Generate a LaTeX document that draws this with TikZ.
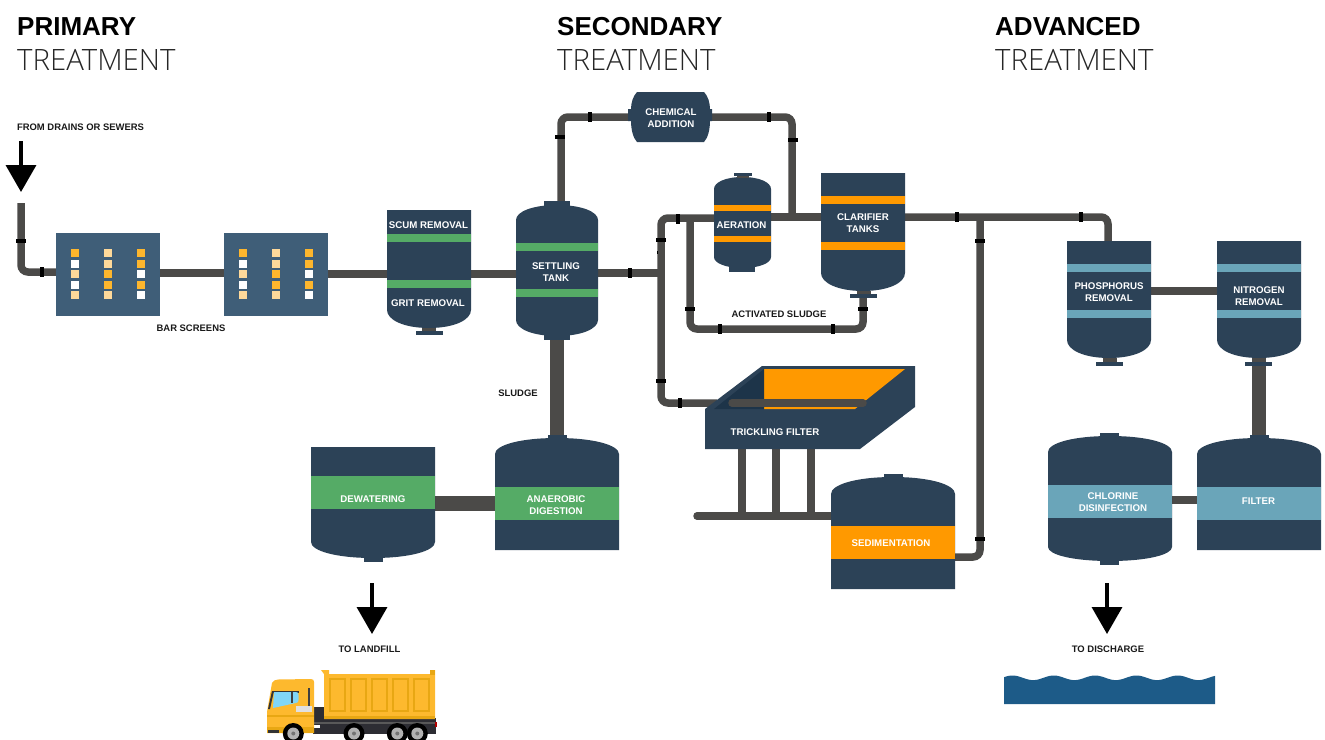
\documentclass[tikz,border=0pt]{standalone}
\usepackage{fontspec}
\setmainfont{Liberation Sans}
\newfontfamily\lightf{Open Sans Light}
\usetikzlibrary{arrows.meta,calc}
\definecolor{navy}{HTML}{2C4257}
\definecolor{panel}{HTML}{3F5E78}
\definecolor{bgreen}{HTML}{55AB66}
\definecolor{borange}{HTML}{FF9900}
\definecolor{bblue}{HTML}{6AA5B9}
\definecolor{water}{HTML}{1D5B88}
\definecolor{pipec}{HTML}{4B4A48}
\definecolor{sqo}{HTML}{FDB62D}
\definecolor{sql}{HTML}{FED99A}
\definecolor{innerd}{HTML}{1D3449}
\definecolor{tkY}{HTML}{FDB92E}
\definecolor{tkD}{HTML}{E8A713}
\definecolor{tkK}{HTML}{2D2D33}
\pgfdeclarelayer{bg}
\pgfsetlayers{bg,main}
\tikzset{
  pipe/.style={draw=pipec,line width=7.5pt,rounded corners=7pt},
  fatpipe/.style={draw=pipec,line width=14pt},
  lbl/.style={inner sep=0pt,outer sep=0pt,yshift=-0.7pt,text=white,align=center,font=\bfseries\fontsize{9.7}{12}\selectfont},
  captxt/.style={inner sep=0pt,outer sep=0pt,yshift=-0.5pt,text=black!90,align=center,font=\bfseries\fontsize{9.45}{12}\selectfont},
  bbox/.style={inner sep=0pt,outer sep=0pt,minimum width=0pt,minimum height=0pt,anchor=north west},
  flow/.style={line width=3.6pt,draw=black,-{Triangle[length=27pt,width=30pt]}}
}
% name, x1, x2, ytop, shoulder1, shoulder2, ybottom
\newcommand\vessel[7]{%
  \fill[navy] ({#2},{#5}) .. controls ({#2},{#5-.55*(#5-#4)}) and ({(#2+#3)/2-.3*(#3-#2)},{#4}) .. ({(#2+#3)/2},{#4})
    .. controls ({(#2+#3)/2+.3*(#3-#2)},{#4}) and ({#3},{#5-.55*(#5-#4)}) .. ({#3},{#5})
    -- ({#3},{#6}) .. controls ({#3},{#6+.55*(#7-#6)}) and ({(#2+#3)/2+.3*(#3-#2)},{#7}) .. ({(#2+#3)/2},{#7})
    .. controls ({(#2+#3)/2-.3*(#3-#2)},{#7}) and ({#2},{#6+.55*(#7-#6)}) .. ({#2},{#6}) -- cycle;
  \node[bbox,minimum width={(#3-#2)*1pt},minimum height={(#7-#4)*1pt}] (#1) at (#2,#4) {};
}
\newcommand\band[5]{\fill[#5] (#1,#3) rectangle (#2,#4);}
\newcommand\foot[4]{% x center, y neck top, y plate top, y plate bottom
  \fill[pipec] ({#1-7},#2) rectangle ({#1+7},#3);
  \fill[navy] ({#1-13.5},#3) rectangle ({#1+13.5},#4);}
\newcommand\tickv[2]{\fill[black] ({#1-1.7},{#2-5}) rectangle ({#1+1.7},{#2+5});}
\newcommand\tickh[2]{\fill[black] ({#1-5},{#2-1.7}) rectangle ({#1+5},{#2+1.7});}
\newcommand\screen[2]{%
  \node[bbox,fill=panel,minimum width=104pt,minimum height=83pt] (#1) at (#2,233) {};
  \foreach \dx/\cola/\colb/\colc/\cold/\cole in {15/sqo/white/sql/white/sql,48/sql/sql/sqo/sqo/sql,81/sqo/sqo/white/sqo/white}{
    \fill[\cola] ({#2+\dx},249) rectangle ({#2+\dx+8},257);
    \fill[\colb] ({#2+\dx},260) rectangle ({#2+\dx+8},268);
    \fill[\colc] ({#2+\dx},270) rectangle ({#2+\dx+8},278);
    \fill[\cold] ({#2+\dx},281) rectangle ({#2+\dx+8},289);
    \fill[\cole] ({#2+\dx},291) rectangle ({#2+\dx+8},299);
  }%
}
\begin{document}
\begin{tikzpicture}[x=1pt,y=-1pt]
\useasboundingbox (0,0) rectangle (1325,739);

% headings
\foreach \n/\x/\t in {hp/17/PRIMARY,hs/557/SECONDARY,ha/995/ADVANCED}{
  \node[anchor=base west,inner sep=0pt,font=\bfseries\fontsize{26}{30}\selectfont] (\n) at (\x,35) {\t};
  \node[anchor=base west,inner sep=0pt,font=\lightf\fontsize{29.4}{30}\selectfont,text=black!85] (\n t) at (\x,70) {TREATMENT};
}

% bar screens
\screen{scrA}{56}
\screen{scrB}{224}

% scum / grit
\vessel{scum}{387}{471}{210}{210}{310}{328}
\band{387}{471}{234}{242}{bgreen}
\band{387}{471}{280}{288}{bgreen}
\foot{429}{328}{331}{335}
\node[lbl] (scumT) at (428.5,224) {SCUM REMOVAL};
\node[lbl] (gritT) at (428,302) {GRIT REMOVAL};

% settling
\vessel{settle}{516}{598}{205}{220}{320}{336}
\fill[navy] (544,201) rectangle (570,206);
\fill[navy] (544,335) rectangle (570,340);
\band{516}{598}{243}{251}{bgreen}
\band{516}{598}{289}{297}{bgreen}
\node[lbl] (settleT) at (556,271) {SETTLING\\TANK};

% chemical addition
\fill[navy] (637,92) -- (704,92) .. controls (708,96) and (710,103) .. (710,109) -- (712,109) -- (712,121) -- (710,121)
  .. controls (710,129) and (708,138) .. (704,142) -- (637,142) .. controls (633,138) and (631,129) .. (631,121)
  -- (628,121) -- (628,109) -- (631,109) .. controls (631,103) and (633,96) .. (637,92) -- cycle;
\node[bbox,minimum width=84pt,minimum height=50pt] (chem) at (628,92) {};
\node[lbl] (chemT) at (671,117.5) {CHEMICAL\\ADDITION};

% aeration
\vessel{aer}{714}{771}{177}{189}{257}{268}
\fill[pipec] (737,175) rectangle (749,178);
\fill[navy] (734,173) rectangle (752,176);
\fill[navy] (729,267) rectangle (755,272);
\band{714}{771}{205}{211}{borange}
\band{714}{771}{236}{242}{borange}
\node[lbl] (aerT) at (741.5,224) {AERATION};

% clarifier
\vessel{clar}{821}{905}{173}{173}{273}{291}
\band{821}{905}{196}{204}{borange}
\band{821}{905}{242}{250}{borange}
\foot{863.5}{291}{294}{298}
\node[lbl] (clarT) at (863,222) {CLARIFIER\\TANKS};

% trickling filter
\fill[navy] (705,409) -- (762,366) -- (915,366) -- (915,407) -- (860,449) -- (705,449) -- cycle;
\fill[borange] (764,369) -- (905,369) -- (855,409) -- (764,409) -- cycle;
\fill[innerd] (714,409) -- (764,369) -- (764,409) -- cycle;
\node[bbox,minimum width=210pt,minimum height=83pt] (trick) at (705,366) {};
\draw[pipec,line width=7.5pt,line cap=round] ([xshift=27pt]trick.west |- 0,403) -- ([xshift=158pt]trick.west |- 0,403);
\node[lbl] (trickT) at (775,431) {TRICKLING FILTER};

% sedimentation
\vessel{sedi}{831}{955}{477}{494}{589}{589}
\fill[navy] (884,474) rectangle (903,478);
\band{831}{955}{526}{559}{borange}
\node[lbl] (sediT) at (891,542) {SEDIMENTATION};

% anaerobic
\vessel{anae}{495}{619}{438}{454}{550}{550}
\fill[navy] (548,435) rectangle (567,439);
\band{495}{619}{487}{520}{bgreen}
\node[lbl] (anaeT) at (556,504.5) {ANAEROBIC\\DIGESTION};

% dewatering
\vessel{dewa}{311}{435}{447}{447}{542}{558}
\fill[navy] (364,557) rectangle (383,562);
\band{311}{435}{476}{509}{bgreen}
\node[lbl] (dewaT) at (373,498) {DEWATERING};

% chlorine
\vessel{chlo}{1048}{1172}{436}{452}{547}{561}
\fill[navy] (1100,433) rectangle (1119,437);
\fill[navy] (1100,560) rectangle (1119,565);
\band{1048}{1172}{485}{518}{bblue}
\node[lbl] (chloT) at (1113,501) {CHLORINE\\DISINFECTION};

% filter
\vessel{filt}{1197}{1321}{438}{454}{550}{550}
\fill[navy] (1250,435) rectangle (1269,439);
\band{1197}{1321}{487}{520}{bblue}
\node[lbl] (filtT) at (1258.5,500) {FILTER};

% phosphorus
\vessel{phos}{1067}{1151}{241}{241}{340}{358}
\band{1067}{1151}{264}{272}{bblue}
\band{1067}{1151}{310}{318}{bblue}
\foot{1109.5}{358}{362}{366}
\node[lbl] (phosT) at (1109,291.5) {PHOSPHORUS\\REMOVAL};

% nitrogen
\vessel{nitr}{1217}{1301}{241}{241}{340}{358}
\band{1217}{1301}{264}{272}{bblue}
\band{1217}{1301}{310}{318}{bblue}
\foot{1258.5}{358}{362}{366}
\node[lbl] (nitrT) at (1259,295) {NITROGEN\\REMOVAL};

% pipes, behind the vessels
\coordinate (inlet) at (21,203);
\coordinate (busL) at (697,516);
\coordinate (jn) at (661,273);
\coordinate (bendTop) at (661,218);
\begin{pgfonlayer}{bg}
  \draw[pipe] (inlet) |- (scrA.west |- 0,272);
  \draw[pipe] (scrA.east |- 0,273) -- (scrB.west |- 0,273);
  \draw[pipe] (scrB.east |- 0,274) -- (scum.west |- 0,274);
  \draw[pipe] (scum.east |- 0,274) -- (settle.west |- 0,274);
  \draw[pipe] (settle.east |- 0,273) -- (jn);
  \draw[pipe] (settle.north -| 561,0) |- (chem.west |- 0,117);
  \draw[pipe] (chem.east |- 0,117) -| (792,217);
  \draw[pipe] ([xshift=12pt]trick.west |- 0,403) -| (bendTop) -- (aer.west |- 0,218);
  \draw[pipe] (690,218) |- (863,329) -- (clar.south -| 863,0);
  \draw[pipe] (aer.east |- 0,217) -- (clar.west |- 0,217);
  \draw[pipe] (clar.east |- 0,217) -| (phos.north -| 1108,0);
  \draw[pipe] (980,217) |- (sedi.east |- 0,557);
  \draw[pipe] (phos.east |- 0,291) -- (nitr.west |- 0,291);
  \draw[pipe] (chlo.east |- 0,500) -- (filt.west |- 0,500);
  \draw[fatpipe] (settle.south -| 557,0) -- (anae.north -| 557,0);
  \draw[fatpipe] (nitr.south -| 1259,0) -- (filt.north -| 1259,0);
  \draw[fatpipe,line width=15pt] (dewa.east |- 0,503) -- (anae.west |- 0,503);
  \foreach \x in {742,776,811}{\draw[pipe] (trick.south -| \x,0) -- (\x,516);}
  \draw[pipe,line cap=round] (busL) -- (sedi.west |- 0,516);
\end{pgfonlayer}

% ticks
\tickh{21}{241}\tickv{42}{272}
\tickv{590}{117}\tickh{560}{137}\tickv{769}{117}\tickh{793}{140}
\tickv{630}{273}\tickh{661}{240}\tickv{678}{219}\tickh{690}{309}
\tickv{720}{329}\tickv{833}{329}\tickh{863}{309}
\tickh{661}{381}\tickv{680}{403}\tickh{980}{539}
\tickv{957}{217}\tickh{980}{241}\tickv{1081}{217}
\fill[black] (657,250.5) rectangle (658,254);

% outside flows
\coordinate (inS) at (21,141); \coordinate (inE) at (21,192);
\draw[flow] (inS) -- (inE);
\coordinate (lfS) at (372,583); \coordinate (lfE) at (372,634);
\draw[flow] (lfS) -- (lfE);
\coordinate (dsS) at (1107,583); \coordinate (dsE) at (1107,634);
\draw[flow] (dsS) -- (dsE);

% plain captions
\node[captxt,anchor=west] (cFrom) at (17,126.5) {FROM DRAINS OR SEWERS};
\node[captxt] (cBar) at (191,327.5) {BAR SCREENS};
\node[captxt] (cSlu) at (518,392.5) {SLUDGE};
\node[captxt] (cAct) at (779,313.5) {ACTIVATED SLUDGE};
\node[captxt] (cLan) at (369.5,648.5) {TO LANDFILL};
\node[captxt] (cDis) at (1108,648.5) {TO DISCHARGE};

% water
\fill[water] (1004,704) -- plot[domain=1004:1215,samples=140] (\x,{677.8-2.3*cos((\x-1012.5)*8.717)}) -- (1215,704) -- cycle;

% truck
\begin{scope}
\clip (250,660) rectangle (445,739);
\fill[tkK] (313,707) rectangle (326,720);
\fill[tkK] (313,718) rectangle (435.5,734);
\fill[black!65] (314,722) rectangle (435,723.5);
\fill[white] (314,725) rectangle (320,728);
\fill[red!70!black] (435,722) rectangle (437,727);
% cargo
\fill[tkY] (324,674) -- (321,670) -- (329,670) -- (329,674) -- (430,674) -- (430,670) -- (435,670) -- (435,719) -- (324,719) -- cycle;
\fill[tkD] (430,670) rectangle (435,675);
\fill[tkD] (324,715.5) rectangle (435,719);
\foreach \x in {329,350,371,392,413}{
  \fill[tkD] (\x,678) rectangle ({\x+17},712);
  \fill[tkY] ({\x+2},680) rectangle ({\x+15},710);
}
% cab
\fill[tkY] (272,683) .. controls (273,680.5) and (275,680) .. (278,679.5) -- (311,679) .. controls (313,679) and (314,680) .. (314,682)
  -- (314,733) -- (267,733) -- (267,712) -- cycle;
\fill[tkD] (267,715) rectangle (314,716.5);
\fill[tkD] (267,727) rectangle (314,733);
\fill[black!80] (272,691) -- (274,691) -- (270,709) -- (268,709) -- cycle;
\fill[black!80] (273,691) rectangle (299,692.5);
\fill[cyan!50!white] (274,692) -- (296,692) .. controls (298,692) and (298.5,693) .. (298.5,695) -- (298.5,700) .. controls (298.5,702) and (298,702.5) .. (296,703) -- (273,708) -- cycle;
\fill[black!75] (291,692) rectangle (293,703);
\fill[black!75] (308,688) rectangle (310,712);
\fill[black!12] (296,706) rectangle (312,712);
\fill[black!80] (268,730) rectangle (279,733);
% wheels
\foreach \x in {293.3,354,397.3,417.3}{
  \fill[black] (\x,733.5) circle (10.5);
  \fill[black!30] (\x,733.5) circle (6);
  \fill[black!55] (\x,733.5) circle (2);
}
\end{scope}
\end{tikzpicture}
\end{document}
